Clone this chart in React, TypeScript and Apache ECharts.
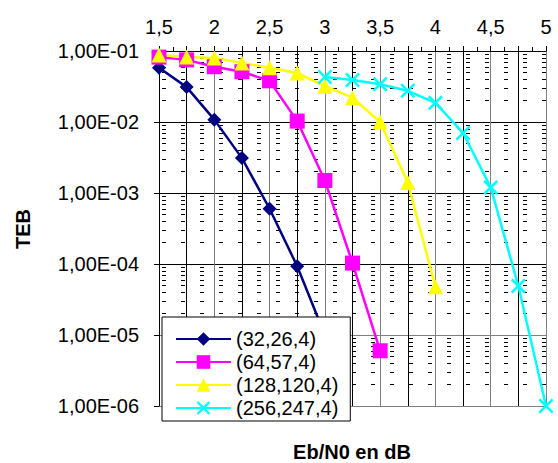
import React, { useEffect, useRef } from "react";
import * as echarts from "echarts";

// Eb/N0 (dB) abscissae
const ebn0 = [1.5, 1.75, 2, 2.25, 2.5, 2.75, 3, 3.25, 3.5, 3.75, 4, 4.25, 4.5, 4.75, 5];
// TEB per code, starting at 1.5 dB (except the last one)
const teb_32_26_4 = [0.058, 0.031, 0.0108, 0.0031, 6.0e-4, 9.3e-5, 1.0e-5];
const teb_64_57_4 = [0.082, 0.075, 0.06, 0.051, 0.038, 0.0103, 0.0015, 1.03e-4, 6.0e-6];
const teb_128_120_4 = [0.088, 0.082, 0.08, 0.068, 0.058, 0.049, 0.032, 0.022, 0.01, 0.0014, 4.8e-5];
const ebn0_256 = [3, 3.25, 3.5, 3.75, 4, 4.25, 4.5, 4.75, 5];
const teb_256_247_4 = [0.043, 0.039, 0.034, 0.0275, 0.0186, 0.007, 0.0012, 4.9e-5, 1.0e-6];

const seriesNames = ["(32,26,4)", "(64,57,4)", "(128,120,4)", "(256,247,4)"];
const seriesColors = ["#000080", "#FF00FF", "#FFFF00", "#00FFFF"];

const xTickValues = [1.5, 2, 2.5, 3, 3.5, 4, 4.5, 5];
const xTickLabels = ["1,5", "2", "2,5", "3", "3,5", "4", "4,5", "5"];
const yTickValues = [1e-6, 1e-5, 1e-4, 1e-3, 1e-2, 1e-1];
const yTickLabels = ["1,00E-06", "1,00E-05", "1,00E-04", "1,00E-03", "1,00E-02", "1,00E-01"];

const xTitle = "Eb/N0 en dB";
const yTitle = "TEB";

const FONT = "'Liberation Sans', Arial, sans-serif";
const CROSS =
  "path://M0,1.2 L1.2,0 L5,3.8 L8.8,0 L10,1.2 L6.2,5 L10,8.8 L8.8,10 L5,6.2 L1.2,10 L0,8.8 L3.8,5 Z";

export default function App() {
  const ref = useRef<HTMLDivElement>(null);
  useEffect(() => {
    if (!ref.current) return;
    const chart = echarts.init(ref.current, null, { renderer: "svg" });

    const pairs = (xs: number[], ys: number[]) => ys.map((y, i) => [xs[i], y]);
    const minorVals: number[] = [];
    for (let e = -6; e < -1; e++) {
      for (let k = 2; k <= 9; k++) minorVals.push(k * Math.pow(10, e));
    }

    const lineSeries = (name: string, color: string, data: number[][], symbol: string, size: number) => ({
      name,
      type: "line",
      data,
      symbol,
      symbolSize: size,
      showSymbol: true,
      lineStyle: { color, width: 2.5 },
      itemStyle: { color, borderWidth: 0 },
      z: 3,
    });

    chart.setOption({
      animation: false,
      backgroundColor: "#ffffff",
      textStyle: { fontFamily: FONT },
      grid: { left: 159, top: 51, width: 387, height: 355, containLabel: false },
      xAxis: {
        type: "value",
        position: "top",
        min: 1.5,
        max: 5,
        interval: 0.25,
        axisLine: { show: true, onZero: false, lineStyle: { color: "#000", width: 1 } },
        axisTick: { show: true, length: 5, lineStyle: { color: "#000" } },
        minorTick: { show: true, splitNumber: 2, length: 4, lineStyle: { color: "#000" } },
        axisLabel: {
          fontFamily: FONT,
          fontSize: 20,
          color: "#000",
          margin: 14,
          formatter: (v: number) => {
            const i = xTickValues.findIndex((t) => Math.abs(t - v) < 1e-6);
            return i >= 0 ? xTickLabels[i] : "";
          },
        },
        splitLine: { show: true, lineStyle: { color: ["#808080", "#000000"], width: 1 } },
      },
      yAxis: {
        type: "log",
        logBase: 10,
        min: 1e-6,
        max: 0.1,
        axisLine: { show: true, onZero: false, lineStyle: { color: "#000", width: 1 } },
        axisTick: { show: true, length: 5, lineStyle: { color: "#000" } },
        axisLabel: {
          fontFamily: FONT,
          fontSize: 20,
          color: "#000",
          margin: 20,
          padding: [8, 0, 0, 0],
          formatter: (v: number) => {
            const i = yTickValues.findIndex((t) => Math.abs(Math.log10(t) - Math.log10(v)) < 1e-6);
            return i >= 0 ? yTickLabels[i] : "";
          },
        },
        splitLine: {
          show: true,
          lineStyle: { color: ["#808080", "#808080", "#000", "#000", "#000", "#000"], width: 1 },
        },
      },
      legend: {
        data: seriesNames,
        orient: "vertical",
        left: 162,
        top: 317,
        backgroundColor: "#ffffff",
        borderColor: "#000",
        borderWidth: 1,
        borderRadius: 0,
        padding: [12, 12, 3, 13],
        itemWidth: 55,
        itemHeight: 17,
        itemGap: 3,
        textStyle: { fontFamily: FONT, fontSize: 20, lineHeight: 18, color: "#000" },
        z: 10,
      },
      graphic: [
        {
          type: "text",
          x: 23,
          y: 229,
          rotation: Math.PI / 2,
          style: {
            text: yTitle,
            fontFamily: FONT,
            fontSize: 20,
            fontWeight: "bold",
            fill: "#000",
            align: "center",
            verticalAlign: "middle",
          },
        },
        {
          type: "text",
          x: 352,
          y: 452,
          style: {
            text: xTitle,
            fontFamily: FONT,
            fontSize: 20,
            fontWeight: "bold",
            fill: "#000",
            align: "center",
            verticalAlign: "middle",
          },
        },
      ],
      series: [
        {
          name: "minor",
          type: "line",
          data: [],
          silent: true,
          markLine: {
            silent: true,
            symbol: "none",
            precision: 12,
            z: 1,
            label: { show: false },
            lineStyle: { color: "#000", width: 1, type: [4, 15], dashOffset: 16 },
            data: minorVals.map((v) => ({ yAxis: v })),
          },
        },
        lineSeries(seriesNames[0], seriesColors[0], pairs(ebn0, teb_32_26_4), "diamond", 14),
        lineSeries(seriesNames[1], seriesColors[1], pairs(ebn0, teb_64_57_4), "rect", 15),
        lineSeries(seriesNames[2], seriesColors[2], pairs(ebn0, teb_128_120_4), "triangle", 15),
        lineSeries(seriesNames[3], seriesColors[3], pairs(ebn0_256, teb_256_247_4), CROSS, 15),
      ],
    });
    return () => chart.dispose();
  }, []);
  return (
    <div
      ref={ref}
      style={{ position: "fixed", left: 0, top: 0, width: 558, height: 463 }}
    />
  );
}
